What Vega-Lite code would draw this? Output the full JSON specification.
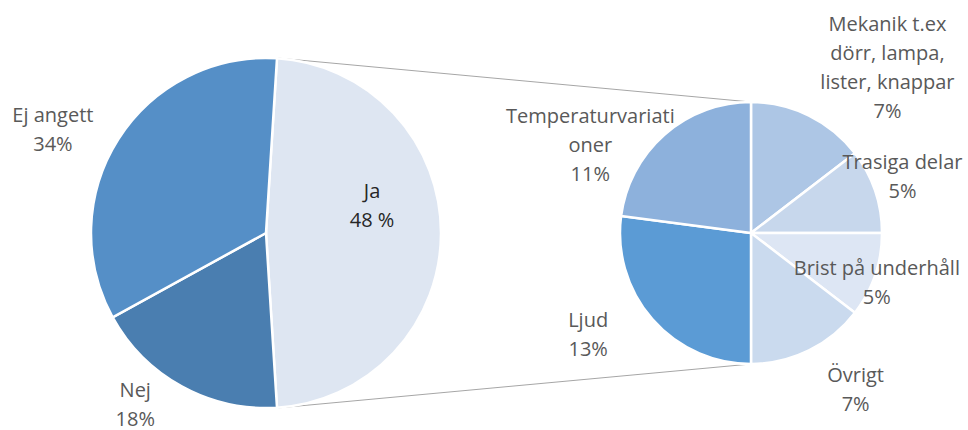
{
  "$schema": "https://vega.github.io/schema/vega-lite/v6.json",
  "width": 968,
  "height": 430,
  "autosize": {"type": "none"},
  "padding": 0,
  "background": "white",
  "config": {
    "view": {"stroke": null},
    "text": {"font": "Open Sans", "fontSize": 20, "color": "#595959", "lineHeight": 29, "lineBreak": "\n", "baseline": "middle", "align": "center"}
  },
  "datasets": {
    "svar": [
      {"kategori": "Ja", "andel": 48, "ordning": 1, "etikett": "Ja\n48 %"},
      {"kategori": "Nej", "andel": 18, "ordning": 2, "etikett": "Nej\n18%"},
      {"kategori": "Ej angett", "andel": 34, "ordning": 3, "etikett": "Ej angett\n34%"}
    ],
    "orsaker": [
      {"kategori": "Mekanik", "andel": 7, "ordning": 1, "etikett": "Mekanik t.ex\ndörr, lampa,\nlister, knappar\n7%"},
      {"kategori": "Trasiga delar", "andel": 5, "ordning": 2, "etikett": "Trasiga delar\n5%"},
      {"kategori": "Brist på underhåll", "andel": 5, "ordning": 3, "etikett": "Brist på underhåll\n5%"},
      {"kategori": "Övrigt", "andel": 7, "ordning": 4, "etikett": "Övrigt\n7%"},
      {"kategori": "Ljud", "andel": 13, "ordning": 5, "etikett": "Ljud\n13%"},
      {"kategori": "Temperaturvariationer", "andel": 11, "ordning": 6, "etikett": "Temperaturvariati\noner\n11%"}
    ]
  },
  "resolve": {"scale": {"theta": "independent"}},
  "layer": [
    {
      "data": {"values": [{}]},
      "mark": {"type": "rule", "color": "#A6A6A6", "strokeWidth": 1, "xOffset": 11},
      "encoding": {
        "x": {"datum": "Alla svar", "type": "nominal", "scale": {"type": "point", "domain": ["Alla svar", "Ja"], "range": [266, 751], "padding": 0}, "axis": null},
        "x2": {"datum": "Ja"},
        "y": {"datum": 175, "type": "quantitative", "scale": {"domain": [-197, 233], "nice": false, "zero": false}, "axis": null},
        "y2": {"datum": 131}
      }
    },
    {
      "data": {"values": [{}]},
      "mark": {"type": "rule", "color": "#A6A6A6", "strokeWidth": 1, "xOffset": 11},
      "encoding": {
        "x": {"datum": "Alla svar", "type": "nominal", "scale": {"type": "point", "domain": ["Alla svar", "Ja"], "range": [266, 751], "padding": 0}, "axis": null},
        "x2": {"datum": "Ja"},
        "y": {"datum": -175, "type": "quantitative", "scale": {"domain": [-197, 233], "nice": false, "zero": false}, "axis": null},
        "y2": {"datum": -131}
      }
    },
    {
      "data": {"name": "svar"},
      "encoding": {
        "x": {"datum": "Alla svar", "type": "nominal", "scale": {"type": "point", "domain": ["Alla svar", "Ja"], "range": [266, 751], "padding": 0}, "axis": null},
        "y": {"datum": 0, "type": "quantitative", "scale": {"domain": [-197, 233], "nice": false, "zero": false}, "axis": null},
        "theta": {"field": "andel", "type": "quantitative", "stack": true, "scale": {"range": [0.06283, 6.34602]}},
        "order": {"field": "ordning", "type": "quantitative"},
        "detail": {"field": "kategori", "type": "nominal"}
      },
      "layer": [
        {
          "mark": {"type": "arc", "outerRadius": 175, "stroke": "white", "strokeWidth": 2.5},
          "encoding": {
            "color": {"field": "kategori", "type": "nominal", "legend": null,
              "scale": {"domain": ["Ja", "Nej", "Ej angett", "Mekanik", "Trasiga delar", "Brist på underhåll", "Övrigt", "Ljud", "Temperaturvariationer"],
                        "range": ["#DEE6F2", "#4A7EB0", "#558FC7", "#ADC6E5", "#C7D7EC", "#DDE6F4", "#CADAEE", "#5B9BD5", "#8DB1DC"]}}
          }
        },
        {
          "mark": {"type": "text", "radius": 106, "dy": -41, "color": "#262626"},
          "encoding": {"text": {"condition": {"test": "datum.kategori === 'Ja'", "field": "etikett", "type": "nominal"}, "value": ""}}
        },
        {
          "mark": {"type": "text", "radius": 237, "dx": -13, "dy": 10},
          "encoding": {"text": {"condition": {"test": "datum.kategori === 'Ej angett'", "field": "etikett", "type": "nominal"}, "value": ""}}
        },
        {
          "mark": {"type": "text", "radius": 205, "dx": -32, "dy": -22},
          "encoding": {"text": {"condition": {"test": "datum.kategori === 'Nej'", "field": "etikett", "type": "nominal"}, "value": ""}}
        }
      ]
    },
    {
      "data": {"name": "orsaker"},
      "encoding": {
        "x": {"datum": "Ja", "type": "nominal", "scale": {"type": "point", "domain": ["Alla svar", "Ja"], "range": [266, 751], "padding": 0}, "axis": null},
        "y": {"datum": 0, "type": "quantitative", "scale": {"domain": [-197, 233], "nice": false, "zero": false}, "axis": null},
        "theta": {"field": "andel", "type": "quantitative", "stack": true, "scale": {"range": [0, 6.28319]}},
        "order": {"field": "ordning", "type": "quantitative"},
        "detail": {"field": "kategori", "type": "nominal"}
      },
      "layer": [
        {
          "mark": {"type": "arc", "outerRadius": 131, "stroke": "white", "strokeWidth": 2.5},
          "encoding": {
            "color": {"field": "kategori", "type": "nominal", "legend": null,
              "scale": {"domain": ["Ja", "Nej", "Ej angett", "Mekanik", "Trasiga delar", "Brist på underhåll", "Övrigt", "Ljud", "Temperaturvariationer"],
                        "range": ["#DEE6F2", "#4A7EB0", "#558FC7", "#ADC6E5", "#C7D7EC", "#DDE6F4", "#CADAEE", "#5B9BD5", "#8DB1DC"]}}
          }
        },
        {
          "mark": {"type": "text", "radius": 200, "dx": 48, "dy": -29},
          "encoding": {"text": {"condition": {"test": "datum.kategori === 'Mekanik'", "field": "etikett", "type": "nominal"}, "value": ""}}
        },
        {
          "mark": {"type": "text", "radius": 160, "dx": 0, "dy": -19},
          "encoding": {"text": {"condition": {"test": "datum.kategori === 'Trasiga delar'", "field": "etikett", "type": "nominal"}, "value": ""}}
        },
        {
          "mark": {"type": "text", "radius": 135, "dx": -2, "dy": -7},
          "encoding": {"text": {"condition": {"test": "datum.kategori === 'Brist på underhåll'", "field": "etikett", "type": "nominal"}, "value": ""}}
        },
        {
          "mark": {"type": "text", "radius": 180, "dx": 25, "dy": -18},
          "encoding": {"text": {"condition": {"test": "datum.kategori === 'Övrigt'", "field": "etikett", "type": "nominal"}, "value": ""}}
        },
        {
          "mark": {"type": "text", "radius": 190, "dx": -20, "dy": -37},
          "encoding": {"text": {"condition": {"test": "datum.kategori === 'Ljud'", "field": "etikett", "type": "nominal"}, "value": ""}}
        },
        {
          "mark": {"type": "text", "radius": 180, "dx": -42, "dy": 19},
          "encoding": {"text": {"condition": {"test": "datum.kategori === 'Temperaturvariationer'", "field": "etikett", "type": "nominal"}, "value": ""}}
        }
      ]
    }
  ]
}
